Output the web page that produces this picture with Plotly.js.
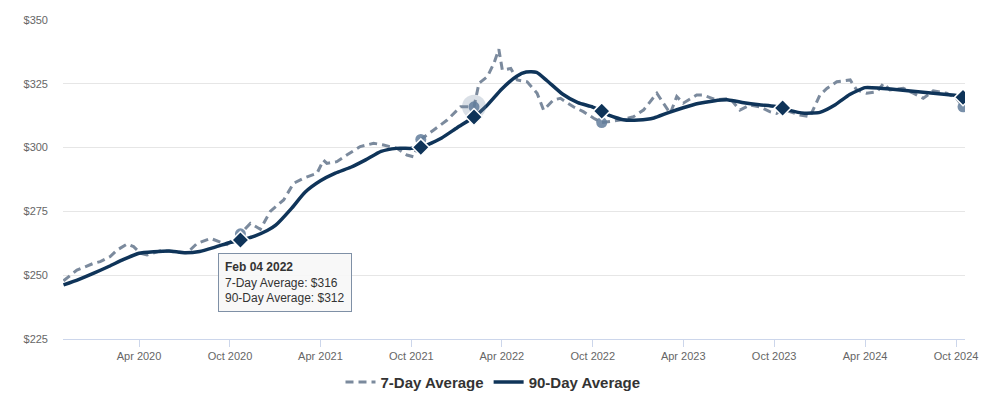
<!DOCTYPE html>
<html>
<head>
<meta charset="utf-8">
<script src="https://cdn.plot.ly/plotly-3.0.1.min.js"></script>
<style>
html,body{margin:0;padding:0;background:#fff;}
#chart{width:986px;height:396px;}
</style>
</head>
<body>
<div id="chart"></div>
<script>
// 7-day average
const dates7 = ['2019-11-01','2019-11-28','2020-01-01','2020-01-14','2020-02-03','2020-02-17','2020-03-08','2020-03-21','2020-04-04','2020-04-17','2020-05-14','2020-06-17','2020-07-07','2020-07-27','2020-08-23','2020-09-25','2020-10-22','2020-11-11','2020-12-01','2020-12-21','2021-01-17','2021-02-06','2021-02-26','2021-03-25','2021-04-07','2021-04-14','2021-05-04','2021-05-24','2021-06-20','2021-07-17','2021-08-06','2021-09-02','2021-09-22','2021-10-05','2021-10-20','2021-11-15','2021-12-12','2022-01-08','2022-02-04','2022-02-14','2022-03-03','2022-03-16','2022-03-26','2022-04-02','2022-04-19','2022-05-02','2022-05-22','2022-06-11','2022-06-24','2022-07-14','2022-07-28','2022-08-23','2022-09-12','2022-10-03','2022-10-19','2022-11-25','2022-12-22','2023-01-11','2023-02-07','2023-02-20','2023-03-06','2023-03-19','2023-04-01','2023-04-28','2023-05-11','2023-06-07','2023-07-04','2023-07-24','2023-08-13','2023-09-02','2023-09-22','2023-10-06','2023-10-18','2023-11-22','2023-12-12','2024-01-01','2024-01-15','2024-02-04','2024-03-02','2024-03-15','2024-04-04','2024-04-25','2024-05-08','2024-05-21','2024-06-17','2024-07-07','2024-07-27','2024-08-16','2024-09-12','2024-10-02','2024-10-15'];
const values7 = [247.8,252.0,254.7,255.3,257.3,259.9,262.2,261.2,258.6,257.9,259.6,259.2,258.8,262.5,264.4,262.0,266.2,270.3,268.0,275.0,279.5,286.0,288.0,289.9,295.1,293.8,294.5,297.1,300.4,301.7,301.0,299.7,297.1,296.4,303.2,306.9,310.8,316.0,316.0,325.2,327.8,333.0,338.5,330.4,331.0,326.5,325.8,321.3,314.7,318.7,319.3,316.0,314.1,311.5,309.8,310.8,312.1,314.7,321.3,317.4,313.4,320.0,317.4,320.6,320.6,318.7,319.3,314.7,316.7,316.0,314.1,313.4,315.0,312.8,312.1,320.6,323.2,325.8,326.5,322.6,321.3,321.9,325.2,322.6,323.2,321.3,319.3,322.2,321.3,319.3,316.0];

// 90-day average
const dates90 = ['2019-11-01','2019-12-01','2020-01-01','2020-02-01','2020-03-01','2020-04-01','2020-05-01','2020-06-01','2020-07-01','2020-08-01','2020-09-01','2020-10-01','2020-10-22','2020-11-15','2020-12-15','2021-01-01','2021-02-01','2021-03-01','2021-04-01','2021-05-01','2021-06-01','2021-07-01','2021-08-01','2021-09-01','2021-10-01','2021-10-20','2021-11-01','2021-12-01','2022-01-01','2022-02-04','2022-03-01','2022-04-01','2022-05-01','2022-05-20','2022-06-10','2022-07-01','2022-08-01','2022-09-01','2022-10-01','2022-10-19','2022-11-01','2022-12-01','2023-01-01','2023-02-01','2023-03-01','2023-04-01','2023-05-01','2023-06-01','2023-07-01','2023-08-01','2023-09-01','2023-10-01','2023-10-18','2023-11-01','2023-12-01','2024-01-01','2024-02-01','2024-03-01','2024-04-01','2024-05-01','2024-06-01','2024-07-01','2024-08-01','2024-09-01','2024-10-01','2024-10-15'];
const values90 = [246.2,248.3,250.8,253.5,256.2,258.6,259.2,259.5,258.8,259.3,261.0,262.8,263.8,265.0,267.5,269.6,276.0,282.5,287.0,290.0,292.3,295.2,298.5,299.7,299.7,300.1,301.0,303.8,307.8,312.0,316.3,323.0,328.0,329.6,329.5,326.2,321.0,317.6,315.9,314.3,312.8,310.9,310.8,311.6,313.6,315.6,317.3,318.3,318.7,317.6,316.8,316.2,315.5,314.6,313.5,313.8,316.8,320.8,323.5,323.3,322.8,322.2,321.6,321.0,320.4,319.7];

// highlighted points
const markerDates = ['2020-10-22','2021-10-20','2022-02-04','2022-10-19','2023-10-18','2024-10-15'];
const hoverDate = '2022-02-04';
const tooltipTitle = 'Feb 04 2022';
const seriesNames = ['7-Day Average','90-Day Average'];

const pick = (ds, vs, list) => list.map(d => vs[ds.indexOf(d)]);
const m7 = pick(dates7, values7, markerDates);
const m90 = pick(dates90, values90, markerDates);
const h7 = pick(dates7, values7, [hoverDate]);
const h90 = pick(dates90, values90, [hoverDate]);

const c7 = '#7b8a9d';
const c90 = '#0f3459';

const traces = [
  {x: dates7, y: values7, type:'scatter', mode:'lines', name: seriesNames[0],
   line:{color:c7, width:3, dash:'8px,5px'}},
  {x: dates90, y: values90, type:'scatter', mode:'lines', name: seriesNames[1],
   line:{color:c90, width:3.5, shape:'spline', smoothing:0.5}},
  {x:[hoverDate], y:h7, type:'scatter', mode:'markers', showlegend:false,
   marker:{size:24, color:'rgba(120,140,165,0.28)', line:{width:0}}},
  {x: markerDates, y: m7, type:'scatter', mode:'markers', showlegend:false,
   marker:{size:11, color:'rgba(98,124,155,0.85)', line:{width:0}}},
  {x: markerDates, y: m90, type:'scatter', mode:'markers', showlegend:false,
   marker:{size:13, symbol:'diamond', color:c90, line:{width:1.5, color:'#ffffff'}}}
];

const layout = {
  width:986, height:396,
  margin:{l:63, r:21, t:20, b:57},
  paper_bgcolor:'#ffffff', plot_bgcolor:'#ffffff',
  font:{family:'Liberation Sans, Arial, sans-serif', color:'#666666', size:11},
  hovermode:false,
  xaxis:{type:'date', range:['2019-10-31','2024-10-19'],
    tick0:'2020-04-01', dtick:'M6', tickformat:'%b %Y',
    showgrid:false, zeroline:false, showline:true, linecolor:'#ccd6eb', linewidth:1,
    ticks:'outside', ticklen:7, tickcolor:'#ccd6eb', tickwidth:1,
    tickfont:{size:11, color:'#666666'}},
  yaxis:{range:[225,350], tick0:225, dtick:25, tickprefix:'$',
    showgrid:true, gridcolor:'#e6e6e6', gridwidth:1, zeroline:false, showline:false,
    ticklabelstandoff:14,
    tickfont:{size:11, color:'#666666'}},
  showlegend:true,
  legend:{orientation:'h', xref:'container', yref:'container', x:0.5, xanchor:'center',
    y:0.035, yanchor:'middle', font:{size:15, color:'#333333', weight:'bold'},
    itemwidth:30, bgcolor:'rgba(0,0,0,0)'},
  annotations:[{
    xref:'paper', yref:'paper', x:0.172, y:0.27, xanchor:'left', yanchor:'top',
    align:'left', showarrow:false,
    text:'<b>'+tooltipTitle+'</b><br>'+seriesNames[0]+': $'+Math.round(h7[0])+'<br>'+seriesNames[1]+': $'+Math.round(h90[0]),
    font:{size:12, color:'#333333'},
    bgcolor:'rgba(247,247,247,0.92)', bordercolor:'#7f90a6', borderwidth:1, borderpad:6
  }]
};

Plotly.newPlot('chart', traces, layout, {displayModeBar:false, staticPlot:true});
</script>
</body>
</html>
